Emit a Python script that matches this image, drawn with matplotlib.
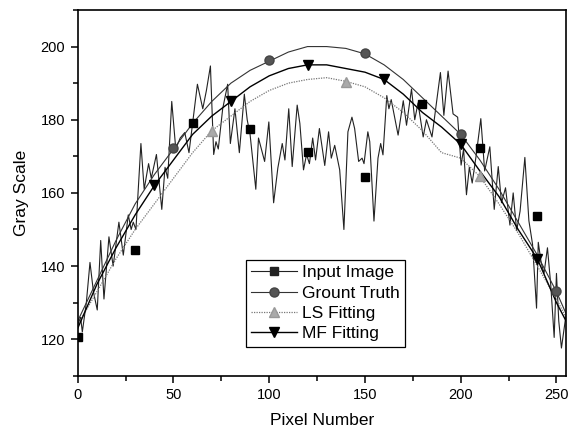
import matplotlib
matplotlib.use("Agg")
import matplotlib.pyplot as plt
from matplotlib.lines import Line2D
from matplotlib.ticker import MultipleLocator

plt.rcParams['font.family'] = ['Liberation Sans', 'DejaVu Sans']

# Noisy input profile (at peaks/troughs)
input_x = [0, 1.5, 2.4, 4.5, 6.4, 8.2, 10.2, 12, 13.7, 16.3, 18.5, 21.5, 23.8, 26.4, 27.9, 29, 30.4,
           33, 34.7, 37, 38.4, 41.1, 43.9, 45.6, 47, 49.1, 51.2, 53.5, 55.9, 58.1, 62.5, 65.3, 67.2,
           69.3, 71, 72.2, 73.4, 75.7, 78.3, 79.7, 82.1, 84.4, 87, 88.5, 90, 93, 94.4, 97.6, 99.8,
           102.3, 104.5, 106.8, 108.2, 110.2, 112, 114.6, 116, 117.9, 119.5, 121, 122.7, 124.2, 126.2,
           129, 131, 132.4, 134.2, 136.8, 139, 141.1, 143.2, 144.6, 146.7, 148.5, 149.5, 151.5, 152.5,
           154.7, 156.8, 158.2, 159.4, 161.4, 162.5, 163.7, 167.3, 170, 171.7, 174.3, 176, 177.7,
           180.4, 182.1, 185, 189.4, 191.2, 193.4, 196, 198.4, 200.2, 201.5, 203, 204.5, 206, 208,
           210.5, 212.5, 215.2, 217.5, 219.6, 221.3, 223.4, 225.7, 227.4, 229.2, 231, 233.5, 235.6,
           237.5, 239.6, 240.5, 242, 243.5, 245.3, 247, 248.8, 250, 251.2, 252.6, 255]
input_y = [124, 126, 122, 130, 141, 133, 128, 147, 131, 148, 140, 152, 143, 154, 150, 152, 150,
           173.5, 161, 168, 164, 170.5, 155.5, 167, 164, 185, 172, 175, 176.5, 171, 189.7, 183, 188,
           194.7, 170.5, 174, 172, 183, 189.7, 173.5, 183, 171, 187, 180, 176, 161, 175, 168.6, 179.4,
           157.3, 166.8, 173.5, 169, 183, 167.2, 184, 179, 166.3, 170.5, 168, 175, 169, 177.6,
           167.5, 176.7, 169.5, 173, 166.3, 150, 176.7, 180.7, 177.6, 168.6, 169.5, 168, 176.7, 174,
           152.3, 169.5, 173.5, 170.4, 186.6, 183, 185.5, 175.8, 185.2, 178.5, 188.4, 180, 184.6,
           175.3, 180, 175.3, 192.9, 181.2, 193.3, 181.6, 180.7, 167.6, 172, 159.5, 167, 162.7, 170,
           180.3, 166, 172.6, 155.5, 167.2, 157.3, 161.4, 151.2, 160, 149.7, 155, 169.7, 152.4,
           146, 128.5, 146.5, 141, 138, 145, 135, 120.5, 138, 125, 117.6, 126.7]

# Symbols of the input series
input_mx = [0, 30, 60, 90, 120, 150, 180, 210, 240]
input_my = [120.5, 144.3, 179.2, 177.5, 171.3, 164.4, 184.3, 172.3, 153.8]

# Fitted curves
fit_x = [0, 10, 20, 30, 40, 50, 60, 70, 80, 90, 100, 110, 120, 130, 140, 150, 160, 170, 180,
         190, 200, 210, 220, 230, 240, 250, 255]
gt_y = [125, 136, 147, 157, 165, 172, 179, 185, 190, 193.5, 196, 198.5, 200, 200, 199.5, 198,
        195, 191, 186, 181, 176, 169, 161, 152, 143, 133, 127]
ls_y = [124, 133, 142, 150, 157, 164, 171, 177, 181, 185, 188, 190, 191, 191.5, 190.5, 189,
        186, 182, 177, 171, 169.5, 164.5, 157, 149, 140, 131, 126]
mf_y = [123, 135, 145, 154, 162, 169, 176, 181, 185, 189, 192, 194, 195, 195, 194, 193,
        191, 187, 182, 178, 173.3, 166, 159, 150, 142, 130, 125]

gt_mx = [50, 100, 150, 200, 250]
gt_my = [172.3, 196.2, 198.3, 176.2, 133.2]
ls_mx = [70, 140, 210]
ls_my = [176.8, 190.4, 164.7]
mf_mx = [40, 80, 120, 160, 200, 240]
mf_my = [162.2, 185, 194.9, 191, 173.3, 142]

labels = ["Input Image", "Grount Truth", "LS Fitting", "MF Fitting"]

fig = plt.figure(figsize=(5.77, 4.34), dpi=100)
ax = fig.add_axes([0.1347, 0.134, 0.8463, 0.843])

ax.plot(input_x, input_y, color='#222222', lw=0.8)
ax.plot(fit_x, gt_y, color='#333333', lw=0.8)
ax.plot(fit_x, ls_y, color='#777777', lw=0.9, ls=(0, (1, 1)))
ax.plot(fit_x, mf_y, color='black', lw=1.0)

ax.plot(input_mx, input_my, ls='none', marker='s', ms=5.5, color='black')
ax.plot(gt_mx, gt_my, ls='none', marker='o', ms=6.5, color='#555555', mec='#444444')
ax.plot(ls_mx, ls_my, ls='none', marker='^', ms=6.5, color='#aaaaaa', mec='#999999')
ax.plot(mf_mx, mf_my, ls='none', marker='v', ms=7, color='black')

handles = [
    Line2D([], [], color='#222222', lw=0.8, marker='s', ms=5.5),
    Line2D([], [], color='#333333', lw=0.8, marker='o', ms=6.5, mfc='#555555', mec='#444444'),
    Line2D([], [], color='#777777', lw=0.9, ls=(0, (1, 1)), marker='^', ms=6.5, mfc='#aaaaaa', mec='#999999'),
    Line2D([], [], color='black', lw=1.0, marker='v', ms=7),
]
leg = ax.legend(handles, labels, loc='lower left', bbox_to_anchor=(0.345, 0.08),
                borderaxespad=0, fancybox=False, edgecolor='black', framealpha=1,
                fontsize=12.5, handlelength=2.6, numpoints=1, borderpad=0.3,
                labelspacing=0.3, handletextpad=0.3)
leg.get_frame().set_linewidth(0.9)

ax.set_xlim(0, 255)
ax.set_ylim(110, 210)
ax.xaxis.set_major_locator(MultipleLocator(50))
ax.xaxis.set_minor_locator(MultipleLocator(25))
ax.yaxis.set_major_locator(MultipleLocator(20))
ax.yaxis.set_minor_locator(MultipleLocator(10))
ax.tick_params(which='both', direction='out', width=1.1, labelsize=10.5)
ax.tick_params(which='major', length=5, pad=4)
ax.tick_params(which='minor', length=3.5)
for s in ax.spines.values():
    s.set_linewidth(1.2)

ax.set_xlabel("Pixel Number", fontsize=12.5, labelpad=8)
ax.set_ylabel("Gray Scale", fontsize=12.5, labelpad=8)

fig.savefig("out.png", dpi=100)
